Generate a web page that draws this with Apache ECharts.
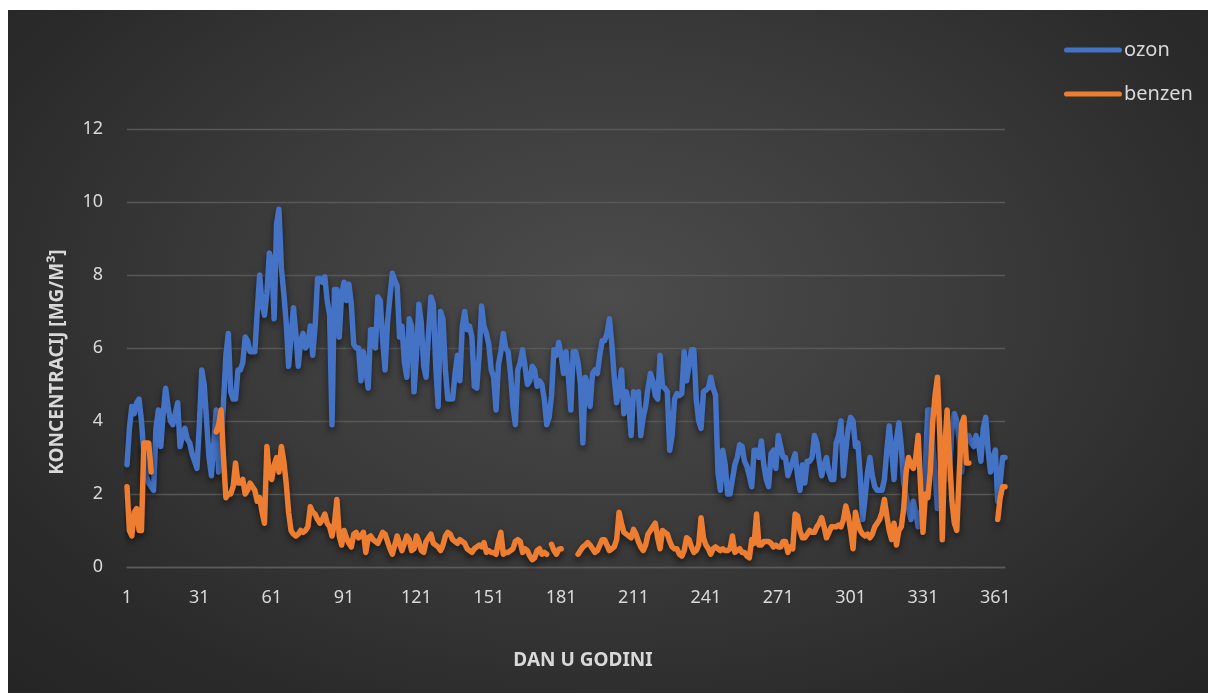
<!DOCTYPE html>
<html>
<head>
<meta charset="utf-8">
<script src="https://cdn.jsdelivr.net/npm/echarts@6/dist/echarts.min.js"></script>
<style>
  html, body { margin: 0; padding: 0; background: #ffffff; width: 1208px; height: 693px; overflow: hidden; }
  #chart { position: absolute; left: 8px; top: 10px; width: 1200px; height: 683px;
    background: radial-gradient(ellipse farthest-corner at 50% 42%, #4c4c4c 0%, #3a3a3a 45%, #2a2a2a 80%, #252525 100%); }
</style>
</head>
<body>
<div id="chart"></div>
<script>
// ---- data ----
const seriesNames = ['ozon', 'benzen'];
const yTicks = [0, 2, 4, 6, 8, 10, 12];

const ozone = [
  2.8, 3.8, 4.4, 4.2, 4.5, 4.6, 4.0, 3.1, 2.5, 2.3,
  2.2, 2.1, 3.8, 4.3, 3.3, 4.2, 4.9, 4.4, 4.0, 3.9,
  4.2, 4.5, 3.3, 3.6, 3.8, 3.5, 3.4, 3.1, 2.9, 2.7,
  3.9, 5.4, 5.0, 4.0, 3.0, 2.5, 3.4, 4.3, 2.6, 3.2,
  4.5, 5.8, 6.4, 4.8, 4.6, 4.6, 5.4, 5.4, 5.6, 6.3,
  6.2, 5.9, 5.9, 5.9, 7.0, 8.0, 7.2, 6.9, 7.5, 8.6,
  8.4, 6.8, 9.4, 9.8, 8.2, 7.5, 6.7, 5.5, 6.3, 7.1,
  6.4, 5.5, 6.2, 6.4, 6.0, 6.1, 6.6, 5.8, 6.6, 7.9,
  7.9, 7.8, 7.95, 7.3, 6.9, 3.9, 7.6, 7.6, 6.3, 7.5,
  7.8, 7.3, 7.75, 7.2, 6.1, 6.0, 6.0, 5.1, 5.9, 5.4,
  4.9, 6.5, 6.5, 6.0, 7.4, 7.3, 6.2, 5.4, 6.7, 7.4,
  8.05, 7.85, 7.7, 6.3, 6.6, 5.6, 5.2, 6.8, 6.6, 4.8,
  5.8, 7.2, 6.7, 5.5, 5.2, 6.4, 7.4, 7.2, 5.5, 4.4,
  7.0, 6.8, 5.4, 4.6, 4.6, 4.6, 5.3, 5.8, 5.1, 6.6,
  7.0, 6.5, 6.6, 6.3, 4.95, 4.9, 5.8, 7.15, 6.6, 6.4,
  6.1, 5.4, 5.2, 4.3, 5.55, 5.9, 6.4, 6.0, 5.9, 5.3,
  4.4, 3.9, 5.4, 5.6, 5.95, 5.5, 5.0, 5.1, 5.5, 5.4,
  4.95, 5.1, 5.0, 4.6, 3.9, 4.1, 4.7, 5.95, 5.8, 6.15,
  5.8, 5.3, 5.9, 5.2, 4.3, 5.9, 5.9, 5.6, 5.0, 3.4,
  5.2, 5.0, 4.4, 5.3, 5.4, 5.3, 5.8, 6.2, 6.2, 6.4,
  6.8, 6.1, 5.2, 4.5, 4.9, 5.4, 4.2, 4.8, 4.5, 3.6,
  4.8, 4.7, 4.8, 3.6, 4.1, 4.4, 4.9, 5.3, 5.1, 4.7,
  4.6, 5.8, 4.95, 4.9, 4.8, 3.2, 3.6, 4.6, 4.75, 4.7,
  4.75, 5.9, 5.1, 5.5, 5.95, 5.95, 4.6, 4.0, 3.8, 4.8,
  4.85, 4.9, 5.2, 4.9, 4.7, 2.6, 2.1, 3.2, 2.8, 2.0,
  2.0, 2.4, 2.8, 3.0, 3.35, 3.3, 2.9, 2.76, 2.5, 2.2,
  3.2, 3.2, 3.0, 3.45, 2.8, 2.4, 2.2, 3.1, 3.2, 2.7,
  3.6, 3.3, 3.0, 3.0, 2.5, 2.7, 2.9, 3.1, 2.5, 2.1,
  2.8, 2.3, 2.9, 2.9, 3.0, 3.6, 3.4, 2.9, 2.5, 2.8,
  3.0, 2.6, 2.4, 2.4, 3.4, 3.6, 4.0, 2.5, 3.2, 3.8,
  4.1, 4.0, 3.3, 3.4, 2.5, 1.3, 1.9, 2.6, 3.0, 2.5,
  2.2, 2.1, 2.1, 2.1, 2.4, 3.2, 3.86, 3.2, 2.4, 3.5,
  3.95, 3.3, 2.3, 1.95, 1.6, 1.3, 1.8, 1.5, 1.1, 1.5,
  1.4, 2.8, 4.3, 4.3, 3.4, 2.6, 1.6, 2.5, 2.9, 3.6,
  2.4, 2.6, 3.8, 4.2, 4.0, 3.5, 2.6, 3.1, 3.6, 3.6,
  3.4, 3.3, 3.6, 3.4, 2.9, 3.8, 4.1, 3.2, 2.6, 3.0,
  3.2, 1.8, 2.3, 3.0, 3.0
];

const benzene = [
  2.2, 1.0, 0.85, 1.5, 1.6, 1.0, 1.0, 3.4, 3.4, 3.4,
  2.6, null, null, null, null, null, null, null, null, null,
  null, null, null, null, null, null, null, null, null, null,
  null, null, null, null, null, null, null, 3.7, 3.9, 4.3,
  3.0, 1.9, 2.0, 2.0, 2.2, 2.85, 2.3, 2.3, 2.4, 2.0,
  2.1, 2.3, 2.2, 2.1, 1.8, 1.9, 1.5, 1.2, 3.3, 2.5,
  2.4, 2.8, 3.0, 2.6, 3.3, 2.9, 2.3, 1.5, 1.0, 0.9,
  0.85, 0.9, 1.0, 0.95, 1.0, 1.1, 1.65, 1.5, 1.45, 1.3,
  1.2, 1.3, 1.45, 1.2, 1.1, 0.85, 1.2, 1.85, 0.85, 0.6,
  1.0, 0.8, 0.65, 0.55, 0.9, 0.95, 0.8, 0.85, 0.95, 0.4,
  0.8, 0.85, 0.75, 0.7, 0.65, 0.8, 0.95, 0.9, 0.7, 0.5,
  0.35, 0.6, 0.85, 0.65, 0.45, 0.65, 0.85, 0.75, 0.45, 0.5,
  0.85, 0.7, 0.45, 0.4, 0.7, 0.8, 0.9, 0.65, 0.6, 0.55,
  0.45, 0.6, 0.85, 0.95, 0.9, 0.75, 0.7, 0.65, 0.75, 0.7,
  0.65, 0.5, 0.45, 0.4, 0.5, 0.55, 0.6, 0.55, 0.67, 0.4,
  0.45, 0.4, 0.4, 0.35, 0.7, 0.95, 0.35, 0.4, 0.4, 0.45,
  0.5, 0.7, 0.75, 0.7, 0.4, 0.5, 0.45, 0.3, 0.2, 0.25,
  0.45, 0.5, 0.35, 0.4, 0.35, null, 0.62, 0.45, 0.35, 0.48,
  0.5, null, null, null, null, null, null, 0.35, 0.45, 0.55,
  0.6, 0.67, 0.6, 0.5, 0.4, 0.45, 0.6, 0.75, 0.75, 0.6,
  0.45, 0.5, 0.55, 0.75, 1.5, 1.2, 0.95, 0.9, 0.85, 0.8,
  1.03, 0.9, 0.7, 0.55, 0.45, 0.6, 0.9, 1.0, 1.1, 1.2,
  0.8, 0.5, 1.0, 0.95, 0.9, 0.7, 0.55, 0.5, 0.5, 0.35,
  0.3, 0.45, 0.8, 0.75, 0.55, 0.4, 0.45, 0.6, 1.35, 0.8,
  0.6, 0.5, 0.35, 0.5, 0.55, 0.5, 0.45, 0.5, 0.45, 0.45,
  0.5, 0.85, 0.4, 0.45, 0.5, 0.4, 0.4, 0.3, 0.25, 0.75,
  0.65, 1.45, 0.6, 0.6, 0.7, 0.7, 0.7, 0.65, 0.55, 0.6,
  0.55, 0.55, 0.7, 0.7, 0.4, 0.55, 0.5, 1.45, 1.4, 1.0,
  0.8, 0.8, 0.9, 1.0, 0.95, 0.95, 1.1, 1.2, 1.35, 1.1,
  0.8, 0.95, 1.1, 1.1, 1.1, 1.15, 1.1, 1.3, 1.67, 1.4,
  1.0, 0.5, 1.5, 1.2, 1.0, 0.9, 0.85, 0.9, 0.8, 0.9,
  1.1, 1.2, 1.3, 1.5, 1.85, 1.4, 1.0, 0.75, 1.2, 0.6,
  1.0, 1.1, 1.6, 2.6, 3.0, 2.8, 2.7, 3.0, 3.6, 2.2,
  0.95, 2.0, 1.9, 2.6, 3.95, 4.7, 5.2, 3.6, 0.75, 3.2,
  4.3, 3.0, 1.8, 1.2, 1.0, 2.5, 3.9, 4.1, 2.85, 2.85,
  null, null, null, null, null, null, null, null, null, null,
  null, 1.3, 1.9, 2.2, 2.2
];

const days = [];
for (let d = 1; d <= ozone.length; d++) days.push(String(d));

// ---- chart ----
const chart = echarts.init(document.getElementById('chart'), null, { renderer: 'canvas' });
const labelColor = '#d9d9d9';
const fontFamily = '"Noto Sans", "Open Sans", sans-serif';
const lineCommon = {
  type: 'line', showSymbol: false, symbol: 'none', connectNulls: false, smooth: false,
  emphasis: { disabled: true }
};
const capsule = 'path://M5,0 H109 A5,5 0 0 1 109,10 H5 A5,5 0 0 1 5,0 Z';

chart.setOption({
  animation: false,
  backgroundColor: 'transparent',
  textStyle: { fontFamily: fontFamily },
  grid: { left: 119, right: 203, top: 119, bottom: 126 },
  legend: {
    orient: 'vertical',
    left: 1051, top: 25,
    itemWidth: 58, itemHeight: 6, itemGap: 24,
    icon: capsule,
    textStyle: { color: labelColor, fontSize: 20, fontFamily: fontFamily, padding: [0, 0, 0, -3] },
    data: seriesNames
  },
  xAxis: {
    type: 'category',
    data: days,
    boundaryGap: false,
    name: 'DAN U GODINI',
    nameLocation: 'middle',
    nameGap: 84,
    nameTextStyle: { color: labelColor, fontSize: 19, fontWeight: 'bold', fontFamily: fontFamily,
      padding: [0, 0, 0, 34] },
    axisLine: { show: true, lineStyle: { color: '#5a5a5a', width: 1.3 } },
    axisTick: { show: false },
    axisLabel: { interval: 29, color: labelColor, fontSize: 18, margin: 22, fontFamily: fontFamily },
    splitLine: { show: false }
  },
  yAxis: {
    type: 'value',
    min: yTicks[0], max: yTicks[yTicks.length - 1], interval: 2,
    name: 'KONCENTRACIJ [MG/M³]',
    nameLocation: 'middle',
    nameGap: 60,
    nameTextStyle: { color: labelColor, fontSize: 19, fontWeight: 'bold', fontFamily: fontFamily,
      padding: [0, 28, 0, 0] },
    axisLine: { show: false },
    axisTick: { show: false },
    axisLabel: { color: labelColor, fontSize: 18, margin: 24, fontFamily: fontFamily },
    splitLine: { show: true, lineStyle: { color: '#585858', width: 1.3 } }
  },
  series: [
    Object.assign({}, lineCommon, {
      name: seriesNames[0], data: ozone, z: 2,
      itemStyle: { color: '#4472C4' },
      lineStyle: { color: '#4472C4', width: 5.5, cap: 'round', join: 'round',
        shadowColor: 'rgba(0,0,0,0.55)', shadowBlur: 7, shadowOffsetY: 4 }
    }),
    Object.assign({}, lineCommon, {
      name: seriesNames[1], data: benzene, z: 3,
      itemStyle: { color: '#ED7D31' },
      lineStyle: { color: '#ED7D31', width: 5.5, cap: 'round', join: 'round',
        shadowColor: 'rgba(0,0,0,0.55)', shadowBlur: 7, shadowOffsetY: 4 }
    })
  ]
});
</script>
</body>
</html>
